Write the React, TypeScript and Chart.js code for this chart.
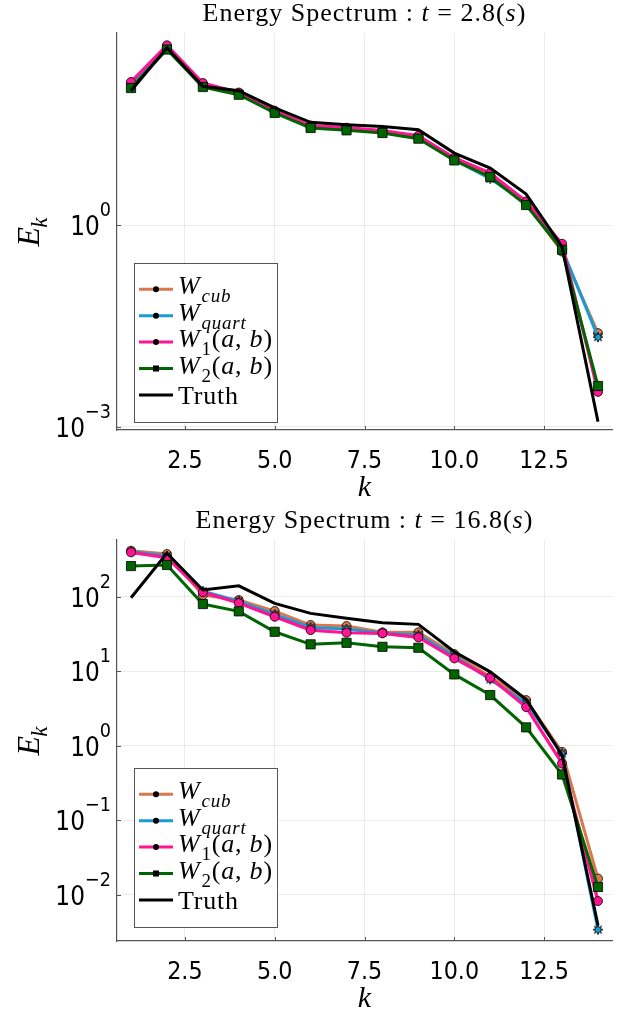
import React, { useEffect, useRef } from "react";
import { Chart, registerables } from "chart.js";
Chart.register(...registerables);

// ---------------- data ----------------
const K = [1, 2, 3, 4, 5, 6, 7, 8, 9, 10, 11, 12, 13, 14];

// t = 2.8 s
const TOP_CUB = [130, 464, 126, 94, 50, 29.8, 27.7, 25, 21, 9.7, 5.5, 2.11, 0.409, 0.0248];
const TOP_QUART = [122, 455, 121, 93, 49, 29.2, 27.3, 24.5, 20.7, 9.5, 4.98, 2.18, 0.449, 0.0216];
const TOP_W1 = [138, 486, 133, 96, 51.5, 30.8, 28.7, 25.9, 21.8, 10.2, 6.05, 2.28, 0.533, 0.0033];
const TOP_W2 = [112, 420, 116, 89, 47.6, 28.4, 26.2, 23.9, 19.7, 9.33, 5.28, 2.02, 0.434, 0.00404];
const TOP_TRUTH = [102, 448, 119, 102, 56.5, 34.5, 31.8, 30, 26.8, 12.0, 7.19, 2.94, 0.481, 0.00119];

// t = 16.8 s
const BOT_CUB = [414, 374, 105, 90.3, 64.3, 41.7, 40.4, 33.3, 33.3, 17.0, 8.44, 4.11, 0.83, 0.0166];
const BOT_QUART = [404, 352, 119, 87.5, 58, 38.8, 36.8, 32.6, 30.6, 16.0, 7.79, 3.74, 0.79, 0.00343];
const BOT_W1 = [394, 334, 115, 82.3, 53.9, 35.7, 32.9, 32.3, 28.5, 14.9, 8.18, 3.31, 0.58, 0.0083];
const BOT_W2 = [258, 267, 79.8, 63.7, 33.9, 23, 24.1, 21.3, 20.7, 9.09, 4.8, 1.77, 0.413, 0.0128];
const BOT_TRUTH = [97, 383, 123, 140, 81.5, 59.8, 51.3, 44.8, 42.6, 18.3, 9.84, 4.2, 0.75, 0.00392];

const X_TICKS = [2.5, 5.0, 7.5, 10.0, 12.5];
const X_TICK_LABELS = ["2.5", "5.0", "7.5", "10.0", "12.5"];
const TOP_Y_EXPS = [0, -3];
const BOT_Y_EXPS = [2, 1, 0, -1, -2];
const TOP_TIME = "2.8";
const BOT_TIME = "16.8";

// ---------------- style ----------------
const W = 635;
const ORANGE = "#d8784c";
const BLUE = "#1a9bd6";
const PINK = "#ff1493";
const GREEN = "#006400";
const BLACK = "#000000";
const AXIS = "#555555";
const GRID = "rgba(0,0,0,0.08)";
const SERIF = '"Liberation Serif", "DejaVu Serif", serif';
const SANS = '"DejaVu Sans", sans-serif';

function makeStar(fill: string, r: number) {
  const c = document.createElement("canvas");
  const s = Math.ceil(2 * r + 4);
  c.width = s;
  c.height = s;
  const g = c.getContext("2d")!;
  const cx = s / 2, cy = s / 2;
  g.beginPath();
  for (let i = 0; i < 16; i++) {
    const rr = i % 2 === 0 ? r : r * 0.5;
    const a = (Math.PI * i) / 8 - Math.PI / 2;
    const px = cx + rr * Math.cos(a), py = cy + rr * Math.sin(a);
    if (i === 0) g.moveTo(px, py); else g.lineTo(px, py);
  }
  g.closePath();
  g.fillStyle = fill;
  g.fill();
  g.lineWidth = 0.8;
  g.strokeStyle = "#000";
  g.stroke();
  return c;
}

type PanelProps = {
  height: number;
  areaTop: number;
  areaBottom: number;
  yMinExp: number;
  yMaxExp: number;
  yExps: number[];
  time: string;
  cub: number[];
  quart: number[];
  w1: number[];
  w2: number[];
  truth: number[];
  legendTop: number;
};

function Panel(p: PanelProps) {
  const ref = useRef<HTMLCanvasElement | null>(null);
  useEffect(() => {
    const canvas = ref.current!;
    const star = makeStar(BLUE, 5);
    const pts = (vals: number[]) => K.map((k, i) => ({ x: k, y: vals[i] }));
    const ds = (label: string, vals: number[], color: string, style: any, radius: number, order: number, bw = 3) => ({
      label,
      data: pts(vals),
      borderColor: color,
      backgroundColor: color,
      borderWidth: bw,
      pointStyle: style,
      pointRadius: radius,
      pointBorderColor: "#000",
      pointBorderWidth: 0.8,
      pointBackgroundColor: color,
      order,
      tension: 0,
    });

    const overlay = {
      id: "overlay",
      afterDraw(chart: any) {
        const { ctx, chartArea: a, scales } = chart;
        const x = scales.x, y = scales.y;
        ctx.save();
        // inward tick marks
        ctx.strokeStyle = AXIS;
        ctx.lineWidth = 1;
        X_TICKS.forEach((v) => {
          const px = Math.round(x.getPixelForValue(v)) + 0.5;
          ctx.beginPath();
          ctx.moveTo(px, a.bottom);
          ctx.lineTo(px, a.bottom - 4);
          ctx.stroke();
        });
        p.yExps.forEach((e) => {
          const py = Math.round(y.getPixelForValue(Math.pow(10, e))) + 0.5;
          ctx.beginPath();
          ctx.moveTo(a.left, py);
          ctx.lineTo(a.left + 4, py);
          ctx.stroke();
        });
        // x tick labels
        ctx.fillStyle = "#000";
        ctx.textBaseline = "alphabetic";
        ctx.textAlign = "center";
        ctx.font = `24px ${SANS}`;
        X_TICKS.forEach((v, i) => {
          const px = x.getPixelForValue(v);
          ctx.save();
          ctx.translate(px, a.bottom + 38);
          ctx.scale(0.93, 1.05);
          ctx.fillText(X_TICK_LABELS[i], 0, 0);
          ctx.restore();
        });
        // y tick labels 10^e
        p.yExps.forEach((e) => {
          const py = y.getPixelForValue(Math.pow(10, e));
          const expStr = e < 0 ? "\u2212" + Math.abs(e) : String(e);
          const right = a.left - 6;
          const sx = 0.93;
          ctx.textAlign = "left";
          ctx.font = `19px ${SANS}`;
          const ew = ctx.measureText(expStr).width * sx;
          ctx.font = `25px ${SANS}`;
          const bw = ctx.measureText("10").width * sx;
          ctx.save();
          ctx.translate(right - ew - bw, py + 10);
          ctx.scale(sx, 1.08);
          ctx.fillText("10", 0, 0);
          ctx.restore();
          ctx.font = `19px ${SANS}`;
          ctx.save();
          ctx.translate(right - ew, py - 9);
          ctx.scale(sx, 1.05);
          ctx.fillText(expStr, 0, 0);
          ctx.restore();
        });
        // title
        const cx = (a.left + a.right) / 2;
        const parts: [string, boolean][] = [
          ["Energy Spectrum", false],
          [" : ", false],
          ["t", true],
          [" = ", false],
          [p.time, false],
          ["(", false],
          ["s", true],
          [")", false],
        ];
        const fontOf = (it: boolean) => `${it ? "italic " : ""}26px ${SERIF}`;
        (ctx as any).letterSpacing = "1px";
        let tw = 0;
        parts.forEach(([t, it]) => {
          ctx.font = fontOf(it);
          tw += ctx.measureText(t).width;
        });
        let tx = cx - tw / 2;
        const ty = a.top - 12;
        ctx.textAlign = "left";
        parts.forEach(([t, it]) => {
          ctx.font = fontOf(it);
          ctx.fillText(t, tx, ty);
          tx += ctx.measureText(t).width;
        });
        (ctx as any).letterSpacing = "0px";
        // x axis label
        ctx.font = `italic 30px ${SERIF}`;
        ctx.textAlign = "center";
        ctx.fillText("k", cx, a.bottom + 66);
        // y axis label E_k
        ctx.save();
        const cy = (a.top + a.bottom) / 2;
        ctx.translate(39, cy);
        ctx.rotate(-Math.PI / 2);
        ctx.font = `italic 32px ${SERIF}`;
        const eW = ctx.measureText("E").width;
        ctx.font = `italic 23px ${SERIF}`;
        const kW = ctx.measureText("k").width;
        const start = -(eW + kW) / 2;
        ctx.textAlign = "left";
        ctx.font = `italic 32px ${SERIF}`;
        ctx.fillText("E", start, 0);
        ctx.font = `italic 23px ${SERIF}`;
        ctx.fillText("k", start + eW - 1, 8);
        ctx.restore();

        // legend
        const bx = 134, by = p.legendTop, bwid = 143, bh = 159;
        ctx.fillStyle = "#fff";
        ctx.fillRect(bx, by, bwid, bh);
        ctx.strokeStyle = AXIS;
        ctx.lineWidth = 1;
        ctx.strokeRect(bx + 0.5, by + 0.5, bwid, bh);
        const rows: { color: string; marker: string; main: [string, boolean][]; sub?: [string, boolean]; rest?: [string, boolean][] }[] = [
          { color: ORANGE, marker: "circle", main: [["W", true]], sub: ["cub", true] },
          { color: BLUE, marker: "circle", main: [["W", true]], sub: ["quart", true] },
          { color: PINK, marker: "circle", main: [["W", true]], sub: ["1", false], rest: [["(", false], ["a", true], [", ", false], ["b", true], [")", false]] },
          { color: GREEN, marker: "square", main: [["W", true]], sub: ["2", false], rest: [["(", false], ["a", true], [", ", false], ["b", true], [")", false]] },
          { color: BLACK, marker: "none", main: [["Truth", false]] },
        ];
        const mf = (it: boolean) => `${it ? "italic " : ""}26px ${SERIF}`;
        const sf = (it: boolean) => `${it ? "italic " : ""}19px ${SERIF}`;
        rows.forEach((r, i) => {
          const ry = by + 26.3 + i * 26.4;
          ctx.strokeStyle = r.color;
          ctx.lineWidth = 3;
          ctx.beginPath();
          ctx.moveTo(139, ry);
          ctx.lineTo(173, ry);
          ctx.stroke();
          ctx.fillStyle = "#000";
          if (r.marker === "circle") {
            ctx.beginPath();
            ctx.arc(156, ry, 3, 0, Math.PI * 2);
            ctx.fill();
          } else if (r.marker === "square") {
            ctx.fillRect(153, ry - 3, 6, 6);
          }
          (ctx as any).letterSpacing = "0.8px";
          let lx = 178;
          const base = r.sub ? ry + 5 : ry + 9;
          ctx.textAlign = "left";
          r.main.forEach(([t, it]) => {
            ctx.font = mf(it);
            ctx.fillText(t, lx, base);
            lx += ctx.measureText(t).width;
          });
          if (r.sub) {
            ctx.font = sf(r.sub[1]);
            lx += 1;
            ctx.fillText(r.sub[0], lx, ry + 13);
            lx += ctx.measureText(r.sub[0]).width;
          }
          if (r.rest) {
            r.rest.forEach(([t, it]) => {
              ctx.font = mf(it);
              ctx.fillText(t, lx, base);
              lx += ctx.measureText(t).width;
            });
          }
          (ctx as any).letterSpacing = "0px";
        });
        ctx.restore();
      },
    };

    const chart = new Chart(canvas, {
      type: "line",
      data: {
        datasets: [
          ds("W_cub", p.cub, ORANGE, "circle", 4.5, 4),
          ds("W_quart", p.quart, BLUE, star, 5, 3),
          ds("W_1(a,b)", p.w1, PINK, "circle", 4.5, 2, 3.2),
          ds("W_2(a,b)", p.w2, GREEN, "rect", 6.5, 1),
          ds("Truth", p.truth, BLACK, "circle", 0, 0),
        ] as any,
      },
      options: {
        responsive: false,
        maintainAspectRatio: false,
        animation: false,
        devicePixelRatio: 1,
        layout: { autoPadding: false, padding: { left: 0, right: W - 612, top: p.areaTop, bottom: 0 } },
        plugins: { legend: { display: false }, tooltip: { enabled: false }, title: { display: false } },
        scales: {
          x: {
            type: "linear",
            min: 0.61,
            max: 14.39,
            afterBuildTicks: (s: any) => {
              s.ticks = X_TICKS.map((v) => ({ value: v }));
            },
            afterFit: (s: any) => {
              s.height = p.height - p.areaBottom;
            },
            ticks: { display: false },
            grid: { color: GRID, lineWidth: 1, drawTicks: false },
            border: { display: true, color: AXIS, width: 1.2 },
          },
          y: {
            type: "logarithmic",
            min: Math.pow(10, p.yMinExp),
            max: Math.pow(10, p.yMaxExp),
            afterBuildTicks: (s: any) => {
              s.ticks = p.yExps.map((e) => ({ value: Math.pow(10, e) }));
            },
            afterFit: (s: any) => {
              s.width = 117;
            },
            ticks: { display: false },
            grid: { color: GRID, lineWidth: 1, drawTicks: false },
            border: { display: true, color: AXIS, width: 1.2 },
          },
        } as any,
      },
      plugins: [overlay],
    });
    return () => chart.destroy();
  }, []);
  return <canvas ref={ref} width={W} height={p.height} style={{ display: "block", width: W, height: p.height }} />;
}

export default function App() {
  return (
    <div style={{ position: "absolute", left: 0, top: 0, width: W, height: 1009, background: "#fff" }}>
      <Panel
        height={505}
        areaTop={33}
        areaBottom={430}
        yMinExp={-3.05}
        yMaxExp={2.87}
        yExps={TOP_Y_EXPS}
        time={TOP_TIME}
        cub={TOP_CUB}
        quart={TOP_QUART}
        w1={TOP_W1}
        w2={TOP_W2}
        truth={TOP_TRUTH}
        legendTop={263}
      />
      <Panel
        height={504}
        areaTop={35}
        areaBottom={436}
        yMinExp={-2.617}
        yMaxExp={2.761}
        yExps={BOT_Y_EXPS}
        time={BOT_TIME}
        cub={BOT_CUB}
        quart={BOT_QUART}
        w1={BOT_W1}
        w2={BOT_W2}
        truth={BOT_TRUTH}
        legendTop={263}
      />
    </div>
  );
}
